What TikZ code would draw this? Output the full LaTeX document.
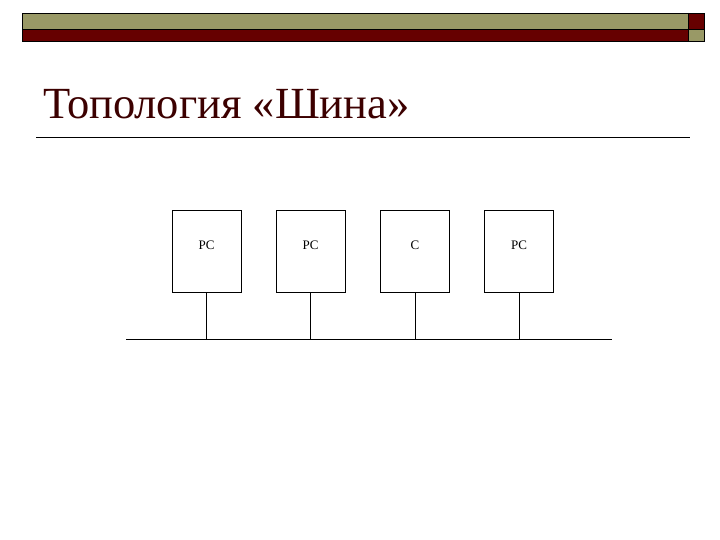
\documentclass[tikz,border=0pt]{standalone}
\usepackage{fontspec}
\setmainfont{Liberation Serif}
\usepackage{xcolor}
\definecolor{olivebar}{HTML}{999966}
\definecolor{darkbar}{HTML}{660000}
\definecolor{titlered}{HTML}{3C0000}
\usepackage{tikz}
\usetikzlibrary{calc,positioning}

\begin{document}
\begin{tikzpicture}[x=1pt, y=-1pt,
    station/.style={draw, thick, minimum width=69pt, minimum height=82pt, font=\fontsize{13}{15}\selectfont, inner sep=0pt, text height=9pt, text depth=12pt},
    wire/.style={thick}
]
  \useasboundingbox (0,0) rectangle (720,540);

  % Header bars
  \fill[olivebar] (22,13) rectangle (688,29);
  \fill[darkbar] (22,29) rectangle (688,41);
  \fill[darkbar] (688,13) rectangle (704,29);
  \fill[olivebar] (688,29) rectangle (704,41);
  \draw[thick] (22,13) rectangle (704,41);
  \draw (22,29) -- (704,29);
  \draw (688,13) -- (688,41);

  % Title
  \node[anchor=base west, text=titlered, font=\fontsize{44.5}{52}\selectfont, inner sep=0pt] (title) at (43,119) {Топология «Шина»};
  \draw (36,137) -- (690,137);

  % Stations
  \node[station] (pc1) at (206.5,251) {PC};
  \node[station] (pc2) at (310.5,251) {PC};
  \node[station] (srv) at (415,251) {C};
  \node[station] (pc4) at (519,251) {PC};

  % Bus
  \coordinate (busL) at (126,339);
  \coordinate (busR) at (612,339);
  \draw[wire] (busL) -- (busR);
  \foreach \n in {pc1,pc2,srv,pc4}
    \draw[wire] (\n.south) -- (\n.south |- busL);
\end{tikzpicture}
\end{document}
